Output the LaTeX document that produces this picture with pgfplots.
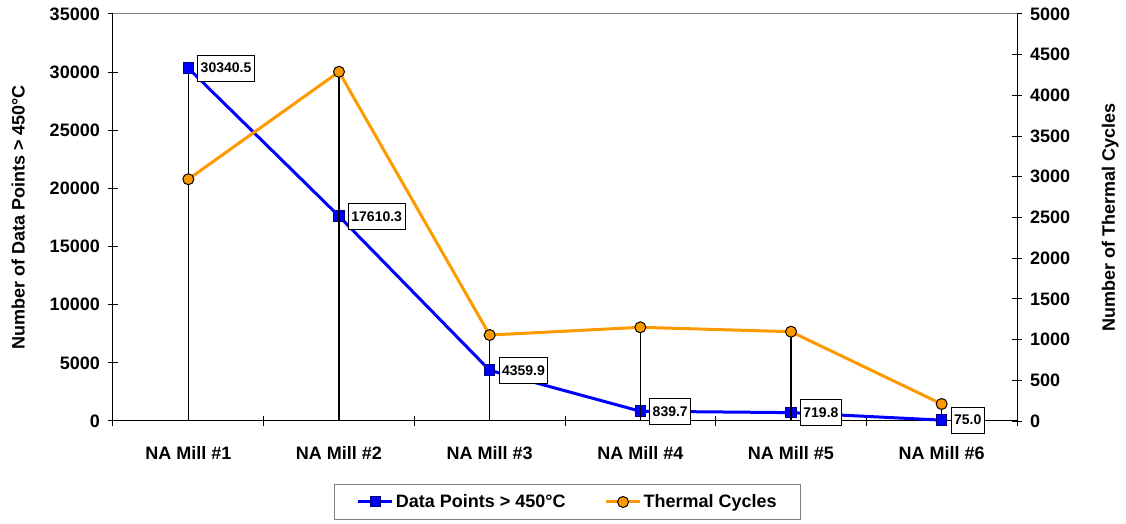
\documentclass[border=0pt]{standalone}
\usepackage{fontspec}
\setmainfont{Liberation Sans}
\usepackage{pgfplots}
\pgfplotsset{compat=1.18}

\definecolor{dpblue}{RGB}{0,0,255}
\definecolor{dpnavy}{RGB}{0,0,128}
\definecolor{tcorange}{RGB}{255,153,0}

\newcommand{\lblfont}{\fontsize{18}{20}\selectfont\bfseries}
\newcommand{\valfont}{\fontsize{14}{16}\selectfont\bfseries}

\pgfplotsset{
  millaxis/.style={
    scale only axis, width=904pt, height=407pt,
    xmin=-0.5, xmax=5.5,
    /pgf/number format/assume math mode=true,
    /pgf/number format/1000 sep={},
    scaled y ticks=false,
    tick label style={font=\lblfont},
    label style={font=\lblfont},
    tick align=center,
    major tick length=10pt, minor tick length=10pt,
    tick style={black, line width=1pt},
    axis line style={-, line width=1pt},
    clip=false,
  },
}

\begin{document}
\begin{tikzpicture}
\useasboundingbox (-113pt,-103pt) rectangle (1013pt,421pt);

% Left axis: number of data points above 450 C
\begin{axis}[millaxis,
  axis x line*=bottom, axis y line*=left,
  ymin=0, ymax=35000, ytick={0,5000,...,35000},
  xtick={0,...,5},
  xticklabels={NA Mill \#1,NA Mill \#2,NA Mill \#3,NA Mill \#4,NA Mill \#5,NA Mill \#6},
  major x tick style={draw=none},
  minor xtick={-0.5,0.5,...,5.5},
  xticklabel style={anchor=center, yshift=-27pt},
  yticklabel style={anchor=east, inner sep=0pt, xshift=-8pt},
  ylabel={\lblfont Number of Data Points > 450°C},
  ylabel style={at={(axis description cs:-0.105,0.5)}, anchor=center},
]
\addplot[ycomb, black, line width=1.2pt, mark=none, forget plot]
  coordinates {(0,30340.5) (1,17610.3) (2,4359.9) (3,839.7) (4,719.8) (5,75.0)};
\addplot[dpblue, line width=3pt, mark=square*, mark size=5.3pt,
  mark options={fill=dpblue, draw=dpnavy, line width=1pt},
  nodes near coords={\pgfmathprintnumber[fixed,fixed zerofill,precision=1]{\pgfplotspointmeta}},
  nodes near coords align=horizontal,
  every node near coord/.append style={font=\valfont, text=black, anchor=west,
    xshift=9pt, draw=black, fill=white, line width=0.8pt, inner xsep=3pt,
    minimum height=26pt},
] coordinates {(0,30340.5) (1,17610.3) (2,4359.9) (3,839.7) (4,719.8) (5,75.0)};
\end{axis}

% Right axis: number of thermal cycles
\begin{axis}[millaxis,
  axis y line*=right, axis x line*=top,
  x axis line style={draw=gray},
  xtick=\empty,
  ymin=0, ymax=5000, ytick={0,500,...,5000},
  yticklabel style={anchor=west, inner sep=0pt, xshift=8pt},
  ylabel={\lblfont Number of Thermal Cycles},
  ylabel style={at={(axis description cs:1.103,0.5)}, anchor=center},
  legend columns=2,
  legend style={draw=gray, line width=1pt, at={(axis description cs:0.503,-0.199)},
    anchor=center, font=\lblfont, inner xsep=22pt, inner ysep=8.5pt,
    /tikz/every even column/.append style={column sep=37pt}},
  legend image code/.code={%
    \draw[mark repeat=2, mark phase=2, #1] plot coordinates {(0pt,0pt) (17pt,0pt) (34pt,0pt)};},
]
\addlegendimage{dpblue, line width=3pt, mark=square*, mark size=5pt,
  mark options={fill=dpblue, draw=dpnavy, line width=1pt}}
\addlegendentry{\lblfont Data Points > 450°C}
\addplot[ycomb, black, line width=1.2pt, mark=none, forget plot]
  coordinates {(0,2970) (1,4290) (2,1056) (3,1151) (4,1097) (5,209)};
\addplot[tcorange, line width=3pt, mark=*, mark size=5.5pt,
  mark options={fill=tcorange, draw=black, line width=1pt}]
  coordinates {(0,2970) (1,4290) (2,1056) (3,1151) (4,1097) (5,209)};
\addlegendentry{\lblfont Thermal Cycles}
\end{axis}
\end{tikzpicture}
\end{document}
